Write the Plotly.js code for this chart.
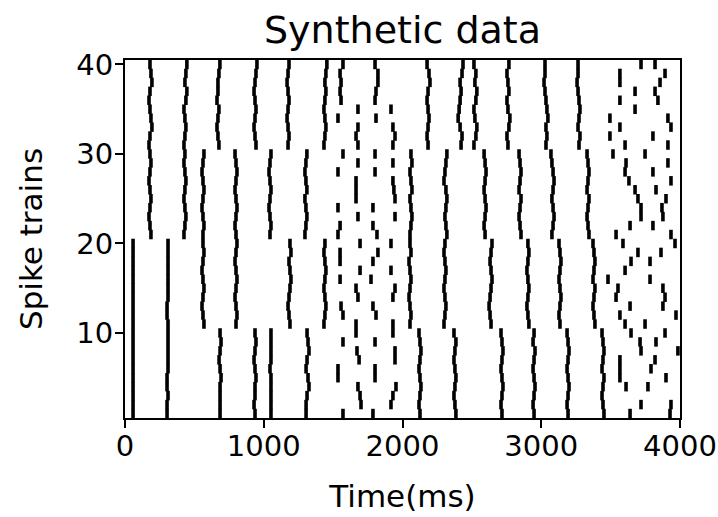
<!DOCTYPE html>
<html>
<head>
<meta charset="utf-8">
<script src="https://cdn.plot.ly/plotly-3.0.1.min.js"></script>
<style>html,body{margin:0;padding:0;background:#fff;}#chart{width:718px;height:517px;}</style>
</head>
<body>
<div id="chart"></div>
<script>
// Spike times (ms) for each train; index 0 = train 1 ... index 39 = train 40
const spikeTimes = [
  [58, 303, 685, 937, 1052, 1305, 1571, 1787, 2126, 2385, 2717, 2948, 3193, 3452, 3640, 3928],
  [58, 303, 685, 930, 1052, 1305, 1701, 1917, 2119, 2378, 2710, 2941, 3186, 3445, 3719, 3935],
  [58, 310, 685, 937, 1052, 1312, 1694, 1931, 2126, 2371, 2717, 2948, 3193, 3438],
  [58, 303, 685, 937, 1052, 1326, 1679, 1953, 2133, 2378, 2724, 2955, 3200, 3445, 3611, 3769],
  [58, 303, 692, 944, 1052, 1319, 1535, 1802, 2126, 2385, 2717, 2948, 3193, 3452, 3567, 3899],
  [58, 310, 685, 937, 1045, 1305, 1535, 1802, 2119, 2378, 2710, 2941, 3186, 3438, 3567, 3791],
  [58, 310, 678, 930, 1052, 1312, 1687, 1946, 2126, 2371, 2717, 2948, 3193, 3445, 3567, 3820],
  [58, 310, 685, 937, 1052, 1326, 1672, 1946, 2133, 2378, 2724, 2955, 3200, 3452, 3719, 3985],
  [58, 310, 692, 944, 1052, 1319, 1571, 1802, 2126, 2385, 2717, 2941, 3193, 3445, 3712, 3827],
  [58, 310, 685, 937, 1052, 1312, 1665, 1931, 2119, 2371, 2710, 2948, 3186, 3438, 3647, 3892],
  [58, 310, 569, 800, 1189, 1434, 1665, 1931, 2054, 2299, 2638, 2911, 3135, 3387, 3604, 3748],
  [58, 303, 562, 807, 1182, 1441, 1571, 1809, 2061, 2306, 2631, 2904, 3128, 3380, 3567, 3971],
  [58, 303, 555, 800, 1175, 1448, 1557, 1787, 2054, 2313, 2624, 2897, 3135, 3373, 3640, 3877],
  [58, 310, 562, 793, 1182, 1441, 1679, 1931, 2047, 2306, 2631, 2904, 3142, 3380, 3539, 3892],
  [58, 310, 569, 800, 1189, 1434, 1665, 1946, 2054, 2299, 2638, 2911, 3135, 3387, 3553, 3877],
  [58, 310, 562, 807, 1196, 1441, 1550, 1773, 2061, 2306, 2645, 2904, 3128, 3373, 3481, 3784],
  [58, 310, 555, 800, 1189, 1448, 1694, 1917, 2054, 2313, 2638, 2897, 3135, 3380, 3604],
  [58, 310, 562, 793, 1182, 1441, 1550, 1787, 2047, 2306, 2631, 2904, 3142, 3387, 3647, 3784],
  [58, 310, 569, 800, 1196, 1434, 1550, 1823, 2061, 2299, 2638, 2911, 3135, 3380, 3697, 3863],
  [58, 310, 562, 807, 1189, 1441, 1694, 1917, 2054, 2306, 2645, 2904, 3128, 3373, 3589, 3964],
  [187, 425, 562, 800, 1045, 1297, 1535, 1816, 2054, 2320, 2595, 2854, 3077, 3344, 3539, 3935],
  [180, 432, 569, 793, 1052, 1304, 1550, 1787, 2061, 2313, 2588, 2847, 3085, 3337, 3640, 3805],
  [173, 439, 562, 800, 1045, 1311, 1679, 1946, 2068, 2306, 2595, 2840, 3092, 3330, 3719, 3877],
  [180, 432, 555, 807, 1038, 1304, 1535, 1787, 2061, 2313, 2602, 2847, 3085, 3337, 3719, 3870],
  [187, 425, 562, 800, 1045, 1297, 1665, 1946, 2054, 2320, 2595, 2854, 3077, 3344, 3697, 3899],
  [180, 432, 569, 793, 1052, 1311, 1665, 1938, 2068, 2313, 2588, 2840, 3085, 3330, 3676, 3827],
  [173, 439, 562, 800, 1045, 1304, 1665, 1931, 2061, 2299, 2595, 2847, 3092, 3337, 3632, 3935],
  [180, 432, 555, 807, 1038, 1297, 1535, 1802, 2054, 2306, 2602, 2854, 3085, 3344, 3604, 3805],
  [187, 425, 562, 800, 1045, 1304, 1679, 1931, 2068, 2313, 2595, 2847, 3077, 3337, 3611, 3913],
  [180, 432, 569, 793, 1052, 1311, 1571, 1802, 2061, 2320, 2588, 2840, 3070, 3330, 3517, 3748],
  [173, 425, 677, 944, 1175, 1434, 1679, 1931, 2184, 2422, 2515, 2760, 3034, 3272, 3604, 3913],
  [180, 432, 670, 937, 1182, 1441, 1665, 1946, 2177, 2429, 2529, 2753, 3041, 3279, 3495, 3805],
  [194, 439, 663, 930, 1175, 1448, 1679, 1931, 2184, 2415, 2536, 2767, 3034, 3265, 3567, 3935],
  [187, 432, 670, 937, 1168, 1441, 1535, 1809, 2191, 2401, 2522, 2774, 3048, 3272, 3495, 3913],
  [180, 425, 677, 944, 1175, 1434, 1679, 1917, 2184, 2408, 2515, 2760, 3041, 3279, 3676],
  [173, 439, 663, 937, 1182, 1441, 1557, 1802, 2177, 2415, 2529, 2753, 3034, 3272, 3567, 3841],
  [180, 446, 670, 930, 1175, 1448, 1550, 1809, 2184, 2422, 2536, 2767, 3027, 3265, 3676, 3820],
  [194, 432, 670, 937, 1168, 1441, 1557, 1823, 2198, 2415, 2522, 2760, 3020, 3258, 3567, 3856],
  [187, 439, 677, 944, 1175, 1448, 1550, 1823, 2191, 2429, 2529, 2753, 3027, 3265, 3567, 3892],
  [180, 446, 684, 951, 1182, 1455, 1571, 1802, 2177, 2436, 2515, 2767, 3027, 3265, 3719, 3820]
];
const trainIds = spikeTimes.map((_, i) => i + 1);
const xTickVals = [0, 1000, 2000, 3000, 4000];
const yTickVals = [10, 20, 30, 40];
const titleText = 'Synthetic data';
const xLabel = 'Time(ms)';
const yLabel = 'Spike trains';

// one vertical segment per spike, spanning the train's row
const xs = [], ys = [];
spikeTimes.forEach((times, i) => {
  const id = trainIds[i];
  times.forEach(t => {
    xs.push(t, t, null);
    ys.push(id - 0.53, id + 0.53, null);
  });
});

const font = {family: 'DejaVu Sans', color: '#000'};
const data = [{
  type: 'scatter', mode: 'lines', x: xs, y: ys,
  line: {color: '#000', width: 3.6}, hoverinfo: 'skip', showlegend: false,
  connectgaps: false, cliponaxis: true
}];
const layout = {
  width: 718, height: 517,
  margin: {l: 125, r: 38, t: 60, b: 99},
  paper_bgcolor: '#fff', plot_bgcolor: '#fff',
  font: Object.assign({size: 29}, font),
  title: {text: titleText, font: Object.assign({size: 38}, font),
          x: 0.5, xref: 'paper', xanchor: 'center', y: 1 - 30/517, yref: 'container', yanchor: 'middle'},
  xaxis: {
    range: [0, 4000], tickvals: xTickVals, ticktext: xTickVals.map(String),
    ticks: 'outside', ticklen: 8, tickwidth: 2, tickcolor: '#000',
    ticklabelstandoff: -7,
    showline: true, linecolor: '#000', linewidth: 2, mirror: true,
    showgrid: false, zeroline: false,
    tickfont: Object.assign({size: 29}, font),
    title: {text: xLabel, font: Object.assign({size: 31}, font), standoff: 24}
  },
  yaxis: {
    range: [0.5, 40.5], tickvals: yTickVals, ticktext: yTickVals.map(String),
    ticks: 'outside', ticklen: 8, tickwidth: 2, tickcolor: '#000',
    ticklabelstandoff: -4,
    showline: true, linecolor: '#000', linewidth: 2, mirror: true,
    showgrid: false, zeroline: false,
    tickfont: Object.assign({size: 29}, font),
    title: {text: yLabel, font: Object.assign({size: 31}, font), standoff: 24}
  }
};
Plotly.newPlot('chart', data, layout, {staticPlot: true, displayModeBar: false});
</script>
</body>
</html>
